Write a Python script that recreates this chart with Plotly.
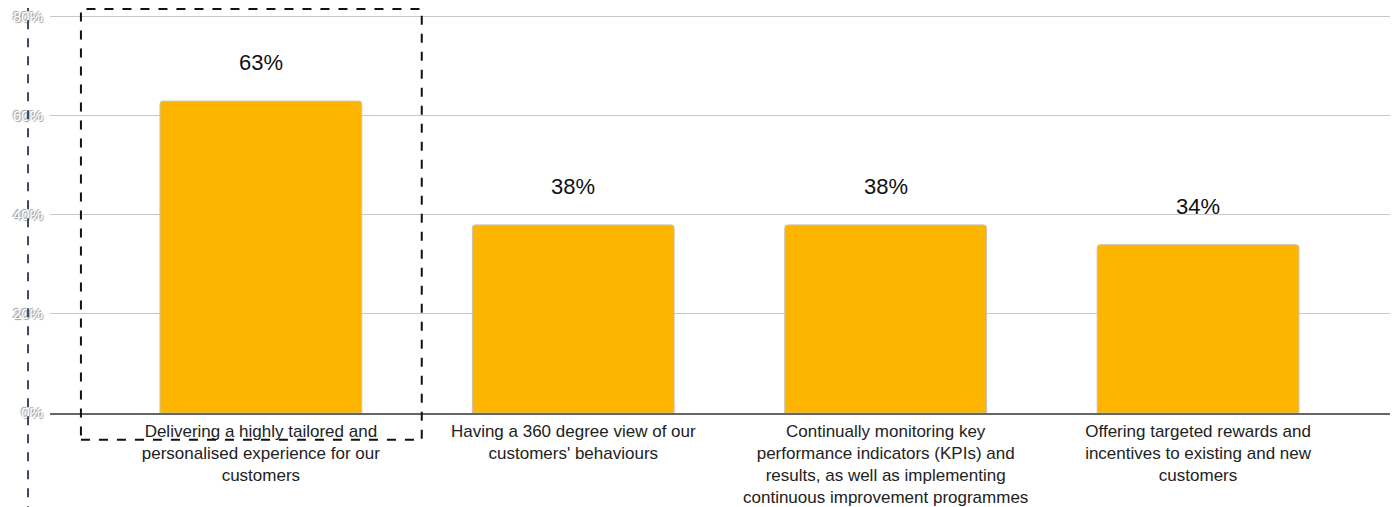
import plotly.graph_objects as go

categories = [
    "Delivering a highly tailored and<br>personalised experience for our<br>customers",
    "Having a 360 degree view of our<br>customers' behaviours",
    "Continually monitoring key<br>performance indicators (KPIs) and<br>results, as well as implementing<br>continuous improvement programmes",
    "Offering targeted rewards and<br>incentives to existing and new<br>customers",
]
values = [63, 38, 38, 34]
value_labels = ["63%", "38%", "38%", "34%"]
y_ticks = [0, 20, 40, 60, 80]
y_tick_labels = ["0%", "20%", "40%", "60%", "80%"]

FONT = "Liberation Sans, Arial, sans-serif"
idx = list(range(len(categories)))

fig = go.Figure()
fig.add_trace(go.Bar(
    x=idx, y=values, width=0.646,
    marker=dict(color="#FDB500", line=dict(color="#c9c3b5", width=1), cornerradius=3),
    hoverinfo="skip",
))

for i, v, t in zip(idx, values, value_labels):
    fig.add_annotation(
        x=i, y=v, text=t, showarrow=False, yanchor="bottom", yshift=24,
        font=dict(family=FONT, size=22, color="#111", shadow="0px 0px 2px #ffffff, 0px 0px 2px #ffffff"),
    )

# highlight box around first category (y in paper units of a 401px-tall plot area)
fig.add_shape(type="rect", xref="x", yref="paper", x0=-0.576, x1=0.515, y0=-0.067, y1=1.0075,
              line=dict(color="#111", width=2, dash="dash"), layer="above")
# vertical dashed line at left
fig.add_shape(type="line", xref="paper", yref="paper", x0=-0.0163, x1=-0.0163, y0=-0.3, y1=1.1,
              line=dict(color="#3b4a5e", width=2, dash="dash"), layer="above")

fig.update_layout(
    width=1390, height=499,
    margin=dict(l=42, r=0, t=4, b=94, autoexpand=False),
    paper_bgcolor="white", plot_bgcolor="white",
    showlegend=False,
    font=dict(family=FONT),
)
fig.update_xaxes(
    range=[-0.675, 3.64], tickmode="array", tickvals=idx, ticktext=categories,
    tickfont=dict(family=FONT, size=17, color="#222"),
    showline=True, linecolor="#666", linewidth=1.5, showgrid=False, ticks="",
    ticklabelstandoff=2, automargin=False,
)
fig.update_yaxes(
    range=[0, 81], tickmode="array", tickvals=y_ticks, ticktext=y_tick_labels,
    tickfont=dict(family=FONT, size=15, color="#ffffff", shadow="1px 1px 1px #999, -1px -1px 1px #999"),
    showgrid=True, gridcolor="#c8c8c8", gridwidth=1, zeroline=False, ticks="",
    ticklabelstandoff=6, automargin=False,
)

fig.write_html("out.html")
